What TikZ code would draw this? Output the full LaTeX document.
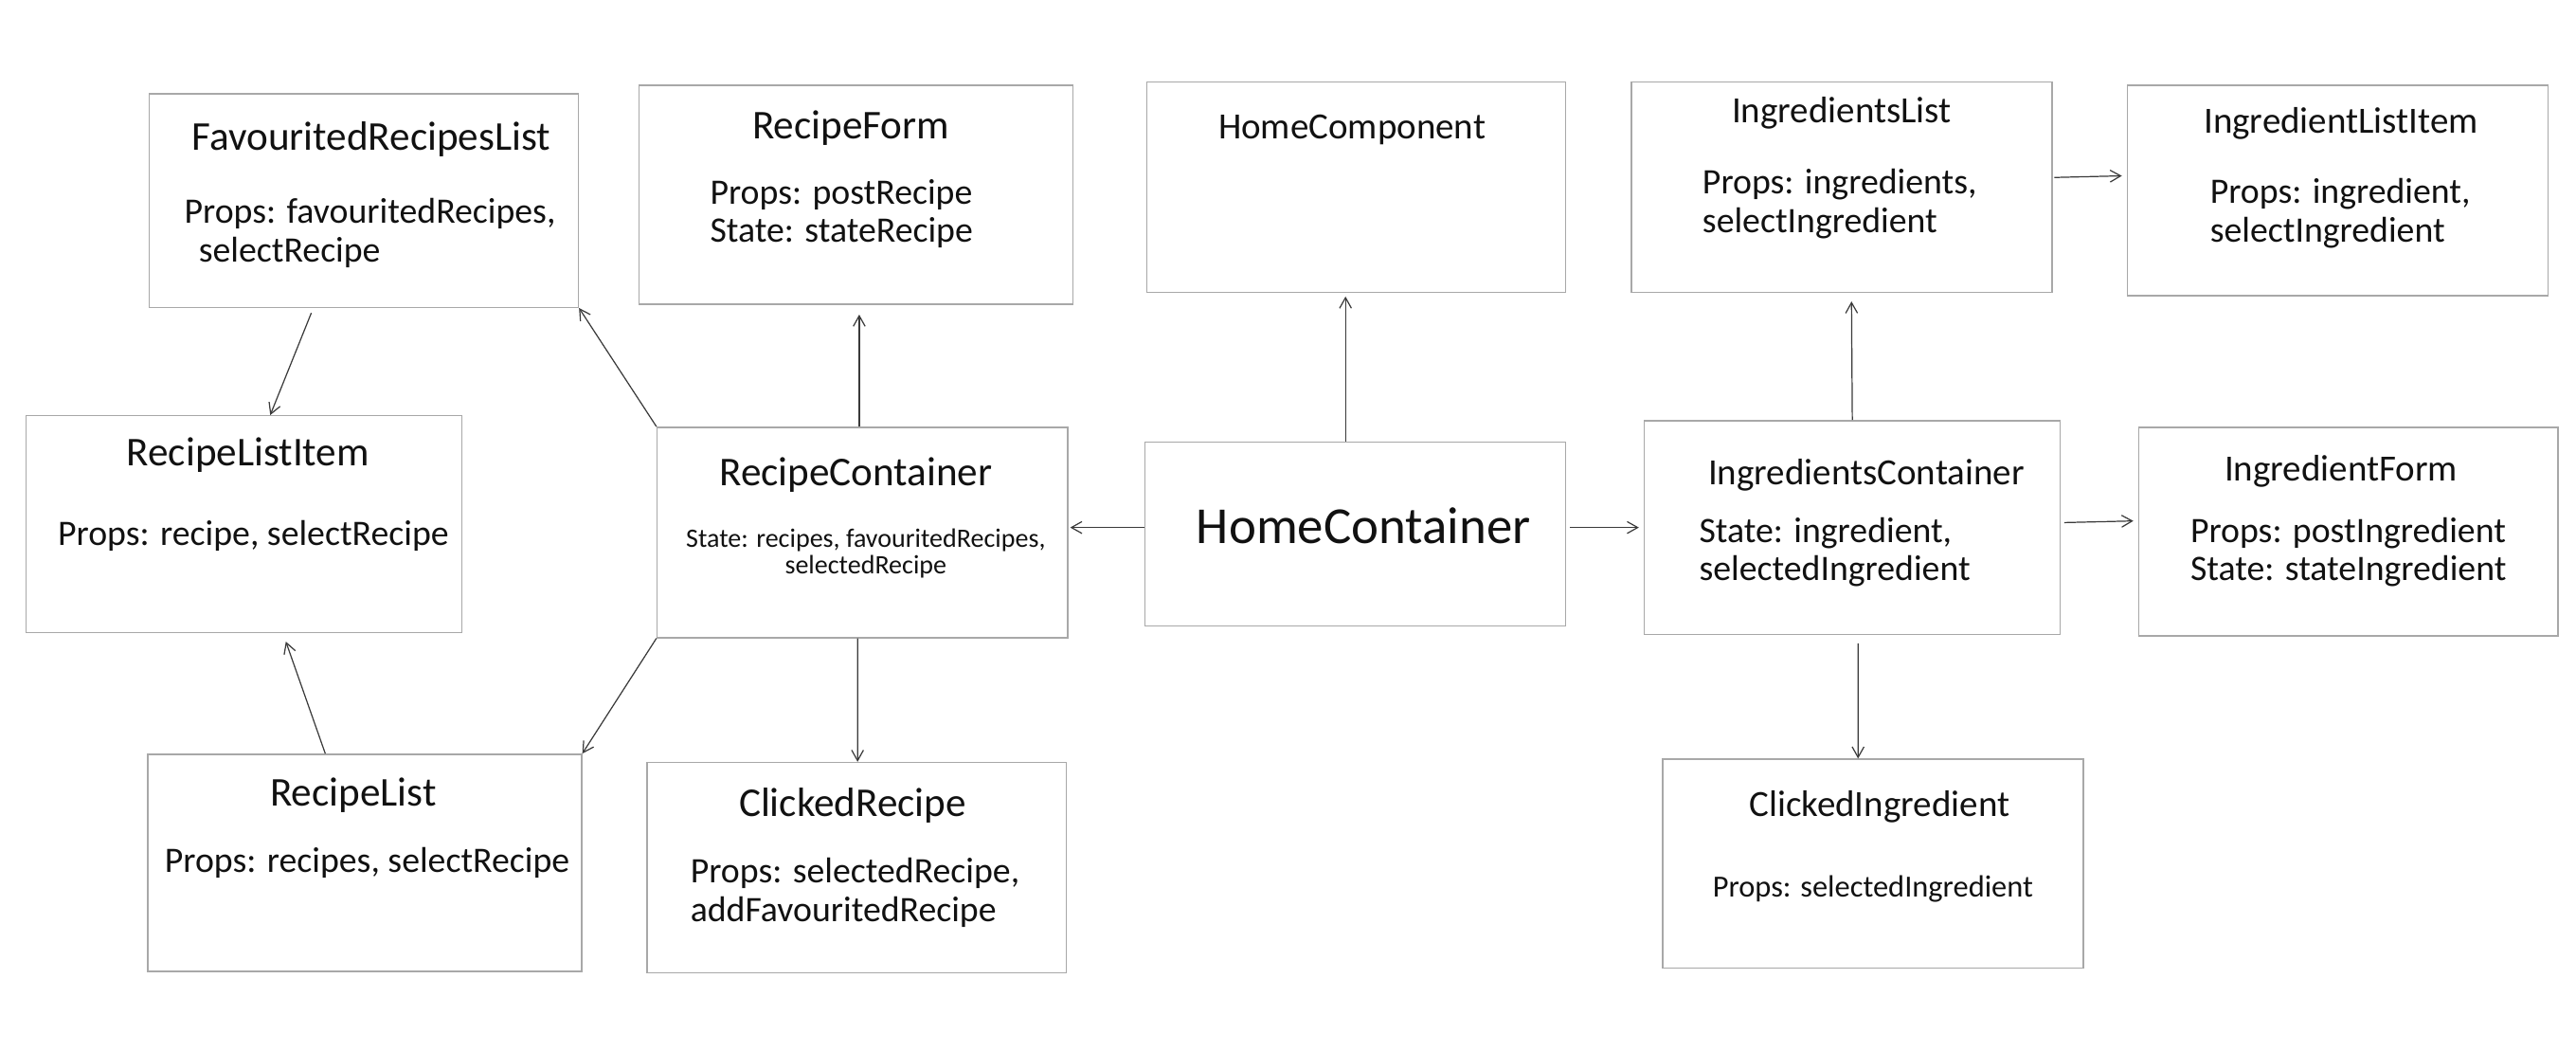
\documentclass[tikz,border=0pt]{standalone}
\usepackage{fontspec}
\setmainfont{Carlito}
\usetikzlibrary{arrows.meta,calc}
\definecolor{edge}{HTML}{A8A8A8}
\definecolor{wire}{HTML}{3A3A3A}
\definecolor{ink}{HTML}{111111}
\tikzset{
  box/.style={rectangle, draw=edge, line width=0.6pt, inner sep=0pt},
  link/.style={-{Straight Barb[length=1.6mm,width=1.8mm]}, line width=0.5pt, draw=wire},
  ttl/.style={text=ink, inner sep=0pt, font=\fontsize{17.7}{20}\selectfont},
  ttlm/.style={text=ink, inner sep=0pt, font=\fontsize{16}{19}\selectfont},
  ttlb/.style={text=ink, inner sep=0pt, font=\fontsize{22.5}{27}\selectfont},
  bdy/.style={text=ink, inner sep=0pt, anchor=west, align=left, font=\fontsize{15.5}{16.7}\selectfont},
  bdys/.style={text=ink, inner sep=0pt, align=center, font=\fontsize{11.5}{11.6}\selectfont}
}

\begin{document}
\begin{tikzpicture}[x=0.025cm, y=-0.025cm]
  \useasboundingbox[fill=white] (0,0) rectangle (1568,639.5);

  % Boxes
  \node[box, minimum width=6.525cm, minimum height=3.25cm]  (frl)   at (221.5,122) {};
  \node[box, minimum width=6.6cm,   minimum height=3.325cm] (rf)    at (521,118.5) {};
  \node[box, minimum width=6.375cm, minimum height=3.2cm]   (hcomp) at (825.5,114) {};
  \node[box, minimum width=6.4cm,   minimum height=3.2cm]   (il)    at (1121,114) {};
  \node[box, minimum width=6.4cm,   minimum height=3.2cm]   (ili)   at (1423,116) {};
  \node[box, minimum width=6.625cm, minimum height=3.3cm]   (rli)   at (148.5,319) {};
  \node[box, minimum width=6.25cm,  minimum height=3.2cm]   (rc)    at (525,324) {};
  \node[box, minimum width=6.4cm,   minimum height=2.8cm]   (hc)    at (825,325) {};
  \node[box, minimum width=6.325cm, minimum height=3.25cm]  (ic)    at (1127.5,321) {};
  \node[box, minimum width=6.375cm, minimum height=3.175cm] (ifm)   at (1429.5,323.5) {};
  \node[box, minimum width=6.6cm,   minimum height=3.3cm]   (rl)    at (222,525) {};
  \node[box, minimum width=6.375cm, minimum height=3.2cm]   (cr)    at (521.5,528) {};
  \node[box, minimum width=6.4cm,   minimum height=3.175cm] (ci)    at (1140,525.5) {};

  % Titles
  \node[ttl]  (frl-t)   at (226,85)   {FavouritedRecipesList};
  \node[ttl]  (rf-t)    at (518,78)   {RecipeForm};
  \node[ttlm] (hcomp-t) at (823,79)   {HomeComponent};
  \node[ttlm] (il-t)    at (1121,69)  {IngredientsList};
  \node[ttlm] (ili-t)   at (1425,75)  {IngredientListItem};
  \node[ttl]  (rli-t)   at (151,277)  {RecipeListItem};
  \node[ttl]  (rc-t)    at (521,289)  {RecipeContainer};
  \node[ttlb] (hc-t)    at (830,320)  {HomeContainer};
  \node[ttlm] (ic-t)    at (1136,289) {IngredientsContainer};
  \node[ttlm] (ifm-t)   at (1425,287) {IngredientForm};
  \node[ttl]  (rl-t)    at (215,484)  {RecipeList};
  \node[ttl]  (cr-t)    at (519,490)  {ClickedRecipe};
  \node[ttlm] (ci-t)    at (1144,491) {ClickedIngredient};

  % Props / State
  \node[bdy]  (frl-b) at (112,142)  {Props: favouritedRecipes,\\\hspace*{0.4em}selectRecipe};
  \node[bdy]  (rf-b)  at (432,130)  {Props: postRecipe\\State: stateRecipe};
  \node[bdy]  (il-b)  at (1036,124) {Props: ingredients,\\selectIngredient};
  \node[bdy]  (ili-b) at (1345,130) {Props: ingredient,\\selectIngredient};
  \node[bdy]  (rli-b) at (35,326)   {Props: recipe, selectRecipe};
  \node[bdys] (rc-b)  at (527,337)  {State: recipes, favouritedRecipes,\\selectedRecipe};
  \node[bdy]  (ic-b)  at (1034,336) {State: ingredient,\\selectedIngredient};
  \node[bdy]  (ifm-b) at (1333,336) {Props: postIngredient\\State: stateIngredient};
  \node[bdy]  (rl-b)  at (100,525)  {Props: recipes, selectRecipe};
  \node[bdy]  (cr-b)  at (420,543)  {Props: selectedRecipe,\\addFavouritedRecipe};
  \node[bdys, font=\fontsize{13.3}{15}\selectfont] (ci-b) at (1140,541) {Props: selectedIngredient};

  % Connectors
  \draw[link] ($(hc.west)+(0,-4)$) -- ($(rc.east)+(1,-3)$);
  \draw[link] ($(hc.north)+(-6,0)$) -- ($(hcomp.south)+(-6.5,2)$);
  \draw[link] ($(hc.east)+(2,-4)$) -- ($(ic.west)+(-3,0)$);
  \draw[link] (rc.north west) -- (frl.south east);
  \draw[link] ($(rc.north)+(-2,0)$) -- ($(rf.south)+(2,6)$);
  \draw[link] (rc.south west) -- (rl.north east);
  \draw[link] ($(rc.south)+(-3,0)$) -- ($(cr.north)+(0.5,0)$);
  \draw[link] ($(frl.south)+(-32,3)$) -- ($(rli.north)+(16,0)$);
  \draw[link] ($(rl.north)+(-24,0)$) -- ($(rli.south)+(25.5,5)$);
  \draw[link] (ic.north) -- ($(il.south)+(6,5)$);
  \draw[link] ($(il.east)+(1,-6)$) -- ($(ili.west)+(-3,-9)$);
  \draw[link] ($(ic.east)+(2,-3)$) -- ($(ifm.west)+(-3,-6.5)$);
  \draw[link] ($(ic.south)+(3.5,5)$) -- ($(ci.north)+(-9,0)$);
\end{tikzpicture}
\end{document}
